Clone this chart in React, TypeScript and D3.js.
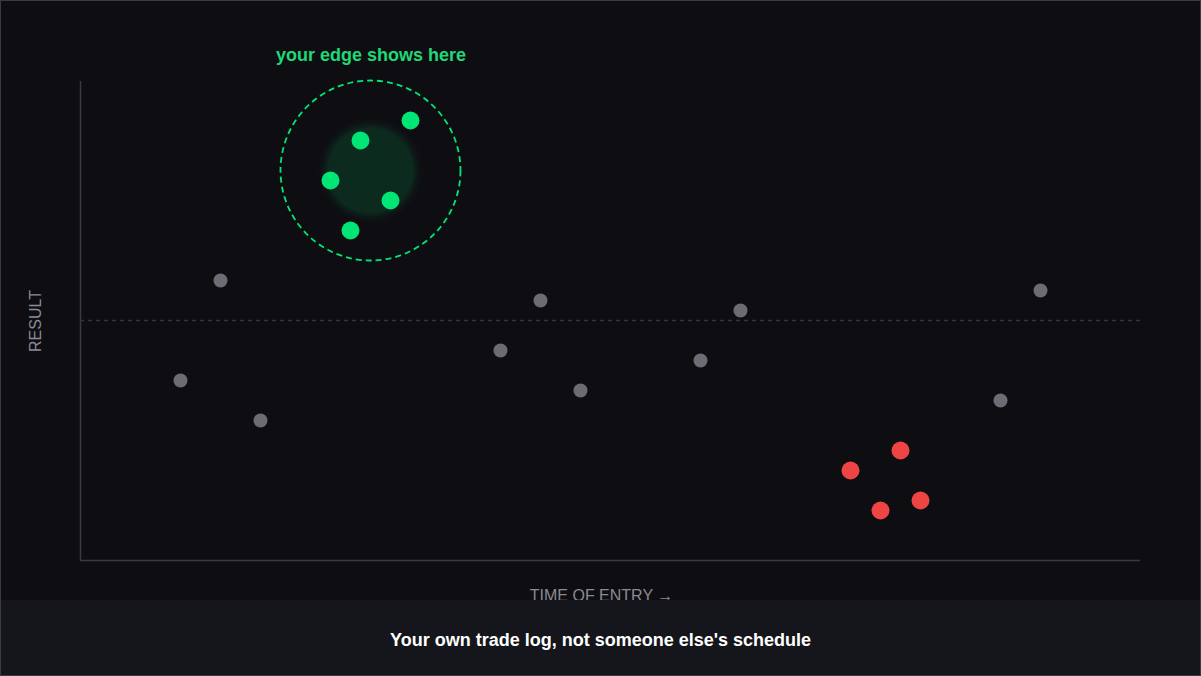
import React from "react";
import * as d3 from "d3";

const W = 1201;
const H = 676;

// data (x: time of entry units, y: result units)
const greyX = [5, 7, 9, 21, 23, 25, 31, 33, 46, 48];
const greyY = [-3, 2, -5, -1.5, 1, -3.5, -2, 0.5, -4, 1.5];
const greenX = [14, 16.5, 12.5, 15.5, 13.5];
const greenY = [9, 10, 7, 6, 4.5];
const redX = [38.5, 41, 40, 42];
const redY = [-7.5, -6.5, -9.5, -9];
const zoneCenter = [14.5, 7.5];
const zoneRadius = 4.5;

const xAxisLabel = "TIME OF ENTRY →";
const yAxisLabel = "RESULT";
const zoneLabel = "your edge shows here";
const caption = "Your own trade log, not someone else's schedule";

export default function App() {
  const x = d3.scaleLinear().domain([0, 53]).range([80.5, 1140.5]);
  const y = d3.scaleLinear().domain([-12, 12]).range([560.5, 80.5]);
  const font = "'Liberation Sans', Arial, Helvetica, sans-serif";
  const cx = x(zoneCenter[0]);
  const cy = y(zoneCenter[1]);
  const r = x(zoneRadius) - x(0);
  return (
    <svg width={W} height={H} style={{ position: "absolute", left: 0, top: 0, display: "block" }}>
      <defs>
        <radialGradient id="glow">
          <stop offset="0%" stopColor="#0c2c1f" stopOpacity={1} />
          <stop offset="78%" stopColor="#0c2a1e" stopOpacity={1} />
          <stop offset="100%" stopColor="#0e0e12" stopOpacity={0} />
        </radialGradient>
      </defs>
      <rect x={0} y={0} width={W} height={H} fill="#0e0e12" />
      {/* axes */}
      <line x1={80.5} x2={80.5} y1={81} y2={561} stroke="#3a3a40" strokeWidth={1.5} />
      <line x1={80} x2={1140} y1={560.5} y2={560.5} stroke="#3a3a40" strokeWidth={1.5} />
      <line x1={80} x2={1140} y1={320.5} y2={320.5} stroke="#34343a" strokeWidth={1.5} strokeDasharray="4 4" />
      {/* zone */}
      <circle cx={cx} cy={cy} r={54} fill="url(#glow)" />
      <circle cx={cx} cy={cy} r={r} fill="none" stroke="#00e676" strokeWidth={1.8} strokeDasharray="6 4" />
      <text x={cx + 0.5} y={61} textAnchor="middle" fill="#1fd877" fontFamily={font} fontWeight="bold" fontSize={18}>{zoneLabel}</text>
      {greyX.map((v, i) => (
        <circle key={"g" + i} cx={x(v)} cy={y(greyY[i])} r={7} fill="#6c6c74" />
      ))}
      {greenX.map((v, i) => (
        <circle key={"e" + i} cx={x(v)} cy={y(greenY[i])} r={9} fill="#00e676" />
      ))}
      {redX.map((v, i) => (
        <circle key={"r" + i} cx={x(v)} cy={y(redY[i])} r={9} fill="#ef4444" />
      ))}
      <text transform={`translate(41,321) rotate(-90)`} textAnchor="middle" fill="#8a8a92" fontFamily={font} fontSize={16}>{yAxisLabel}</text>
      <text x={601.5} y={601} textAnchor="middle" fill="#8a8a92" fontFamily={font} fontSize={16}>{xAxisLabel}</text>
      {/* caption band */}
      <rect x={0} y={600} width={W} height={76} fill="#15161b" />
      <text x={600.5} y={646} textAnchor="middle" fill="#ffffff" fontFamily={font} fontWeight="bold" fontSize={18}>{caption}</text>
      <rect x={0.5} y={0.5} width={W - 1} height={H - 1} fill="none" stroke="#3a3a40" strokeWidth={1} />
    </svg>
  );
}
